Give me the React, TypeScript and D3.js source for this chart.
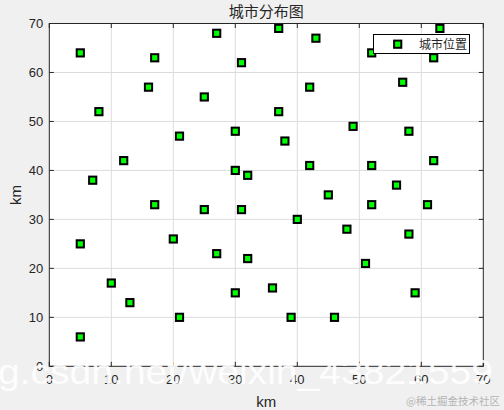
import * as d3 from 'd3'

// city coordinates (km)
const cityX = [5, 8, 16, 17, 27, 25, 31, 37, 37, 43, 42, 52, 57, 62, 63, 49, 58, 30, 21, 38,
  12, 7, 30, 32, 42, 52, 62, 56, 45, 17, 25, 31, 52, 61, 40, 48, 58, 5, 20, 27, 32, 51,
  10, 13, 21, 5, 30, 36, 39, 46, 59]
const cityY = [64, 52, 57, 63, 68, 55, 62, 69, 52, 67, 57, 64, 58, 63, 69, 49, 48, 48, 47, 46,
  42, 38, 40, 39, 41, 41, 42, 37, 35, 33, 32, 32, 33, 33, 30, 28, 27, 25, 26, 23, 22, 21,
  17, 13, 10, 6, 15, 16, 10, 10, 15]
const ticks = [0, 10, 20, 30, 40, 50, 60, 70]

const W = 504
const H = 410
const left = 49.3
const right = 483.3
const top = 23.5
const bottom = 366.3

const axisColor = '#262626'
const font = 'Liberation Sans, Arial, sans-serif'
const cjk = 'Noto Sans CJK SC, sans-serif'

export default function App() {
  const x = d3.scaleLinear().domain([0, 70]).range([left, right])
  const y = d3.scaleLinear().domain([0, 70]).range([bottom, top])
  const tl = 4.5

  const marker = (cx: number, cy: number, key?: any) => (
    <rect key={key} x={cx - 3.6} y={cy - 3.6} width={7.2} height={7.2}
      fill="#00ff00" stroke="#000" strokeWidth={2} />
  )

  return (
    <svg width={W} height={H} style={{ position: 'absolute', left: 0, top: 0, background: '#f0f0f0' }}>
      <rect x={left} y={top} width={right - left} height={bottom - top} fill="#fff" />
      {/* grid */}
      {ticks.slice(1, -1).map(t => (
        <g key={'g' + t}>
          <line x1={x(t)} x2={x(t)} y1={top} y2={bottom} stroke="#dcdcdc" strokeWidth={1} />
          <line x1={left} x2={right} y1={y(t)} y2={y(t)} stroke="#dcdcdc" strokeWidth={1} />
        </g>
      ))}
      {/* ticks inward, all four sides */}
      {ticks.map(t => (
        <g key={'t' + t} stroke={axisColor} strokeWidth={1}>
          <line x1={x(t)} x2={x(t)} y1={bottom} y2={bottom - tl} />
          <line x1={x(t)} x2={x(t)} y1={top} y2={top + tl} />
          <line x1={left} x2={left + tl} y1={y(t)} y2={y(t)} />
          <line x1={right} x2={right - tl} y1={y(t)} y2={y(t)} />
        </g>
      ))}
      <rect x={left} y={top} width={right - left} height={bottom - top} fill="none" stroke={axisColor} strokeWidth={1} />
      {/* tick labels */}
      {ticks.map(t => (
        <text key={'xl' + t} x={x(t)} y={bottom + 18} textAnchor="middle" fontFamily={font} fontSize={13} fill={axisColor}>{t}</text>
      ))}
      {ticks.map(t => (
        <text key={'yl' + t} x={left - 6} y={y(t) + 4.5} textAnchor="end" fontFamily={font} fontSize={13} fill={axisColor}>{t}</text>
      ))}
      {/* points */}
      {cityX.map((v, i) => marker(x(v), y(cityY[i]), i))}
      {/* labels */}
      <text x={(left + right) / 2} y={17} textAnchor="middle" fontFamily={cjk} fontSize={15} fill={axisColor}>城市分布图</text>
      <text x={(left + right) / 2} y={407} textAnchor="middle" fontFamily={font} fontSize={15} fill={axisColor}>km</text>
      <text transform={`translate(21,${(top + bottom) / 2}) rotate(-90)`} textAnchor="middle" fontFamily={font} fontSize={15} fill={axisColor}>km</text>
      {/* legend */}
      <rect x={373.5} y={34.5} width={96} height={19} fill="#fff" stroke="#000" strokeWidth={1} />
      {marker(397.7, 44.2)}
      <text x={467} y={48.5} textAnchor="end" fontFamily={cjk} fontSize={12} fill={axisColor}>城市位置</text>
      {/* watermarks */}
      <text x={-2} y={384} fontFamily={font} fontSize={35} fill="#fff" opacity={0.9} textLength={495} lengthAdjust="spacingAndGlyphs">g.csdn.net/weixin_43821559</text>
      <text x={500} y={405} textAnchor="end" fontFamily={cjk} fontSize={10.5} fill="#b4b4b4">@稀土掘金技术社区</text>
    </svg>
  )
}
